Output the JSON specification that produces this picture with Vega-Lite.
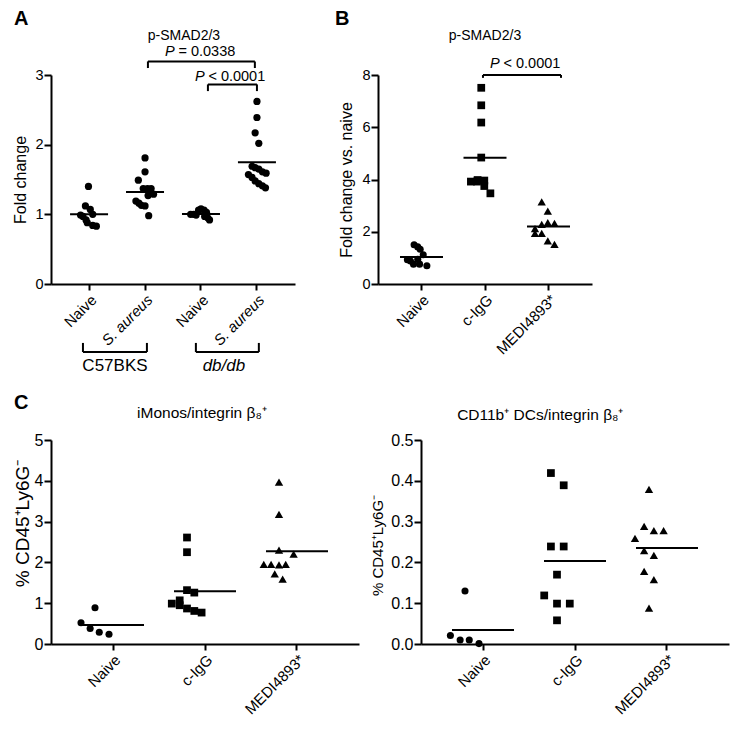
{
  "$schema": "https://vega.github.io/schema/vega-lite/v6.json",
  "background": "white",
  "padding": {"left": 12, "top": 8, "right": 5, "bottom": 5},
  "config": {
    "font": "Liberation Sans",
    "view": {"stroke": null},
    "axis": {"grid": false, "domainColor": "#000", "domainWidth": 2, "tickColor": "#000", "tickWidth": 2, "tickSize": 7, "labelColor": "#000", "labelFontSize": 14.5, "labelPadding": 1, "titleColor": "#000", "titleFontSize": 16, "titleFontWeight": "normal", "titlePadding": 6, "labelOverlap": false},
    "axisX": {"labelAngle": -45, "labelAlign": "right", "labelBaseline": "top", "labelFontSize": 15, "labelPadding": 2, "tickSize": 6},
    "text": {"color": "#000"},
    "rule": {"color": "#000", "strokeWidth": 2}
  },
  "datasets": {
    "A": [
      {"grp": "Naive|C57BKS", "col": -0.25, "v": 1.40}, {"grp": "Naive|C57BKS", "col": -1.5, "v": 1.12}, {"grp": "Naive|C57BKS", "col": 0.5, "v": 1.07}, {"grp": "Naive|C57BKS", "col": 1.5, "v": 1.00}, {"grp": "Naive|C57BKS", "col": -3.5, "v": 0.99}, {"grp": "Naive|C57BKS", "col": -2.5, "v": 0.97}, {"grp": "Naive|C57BKS", "col": -1.25, "v": 0.92}, {"grp": "Naive|C57BKS", "col": -0.75, "v": 0.88}, {"grp": "Naive|C57BKS", "col": 1.5, "v": 0.84}, {"grp": "Naive|C57BKS", "col": 3, "v": 0.83},
      {"grp": "S. aureus|C57BKS", "col": 0, "v": 1.81}, {"grp": "S. aureus|C57BKS", "col": 0, "v": 1.61}, {"grp": "S. aureus|C57BKS", "col": -2.75, "v": 1.49}, {"grp": "S. aureus|C57BKS", "col": -0.75, "v": 1.37}, {"grp": "S. aureus|C57BKS", "col": 1, "v": 1.37}, {"grp": "S. aureus|C57BKS", "col": 2.5, "v": 1.37}, {"grp": "S. aureus|C57BKS", "col": 3.5, "v": 1.29}, {"grp": "S. aureus|C57BKS", "col": 1.25, "v": 1.27}, {"grp": "S. aureus|C57BKS", "col": -3.75, "v": 1.19}, {"grp": "S. aureus|C57BKS", "col": -2.5, "v": 1.16}, {"grp": "S. aureus|C57BKS", "col": -1.5, "v": 1.13}, {"grp": "S. aureus|C57BKS", "col": 0, "v": 1.12}, {"grp": "S. aureus|C57BKS", "col": 1.5, "v": 0.98},
      {"grp": "Naive|db/db", "col": -4.25, "v": 1.00}, {"grp": "Naive|db/db", "col": -3, "v": 1.00}, {"grp": "Naive|db/db", "col": -2, "v": 0.99}, {"grp": "Naive|db/db", "col": -1, "v": 1.06}, {"grp": "Naive|db/db", "col": 0, "v": 1.08}, {"grp": "Naive|db/db", "col": 1.25, "v": 1.06}, {"grp": "Naive|db/db", "col": 2.25, "v": 1.03}, {"grp": "Naive|db/db", "col": 1.5, "v": 0.97}, {"grp": "Naive|db/db", "col": 2.75, "v": 0.95}, {"grp": "Naive|db/db", "col": 3.5, "v": 0.92},
      {"grp": "S. aureus|db/db", "col": 0, "v": 2.62}, {"grp": "S. aureus|db/db", "col": 0, "v": 2.39}, {"grp": "S. aureus|db/db", "col": -0.75, "v": 2.17}, {"grp": "S. aureus|db/db", "col": 0.75, "v": 2.02}, {"grp": "S. aureus|db/db", "col": -2, "v": 1.69}, {"grp": "S. aureus|db/db", "col": -0.75, "v": 1.67}, {"grp": "S. aureus|db/db", "col": 0.75, "v": 1.65}, {"grp": "S. aureus|db/db", "col": 2.25, "v": 1.61}, {"grp": "S. aureus|db/db", "col": 3.75, "v": 1.59}, {"grp": "S. aureus|db/db", "col": -3.5, "v": 1.57}, {"grp": "S. aureus|db/db", "col": -2, "v": 1.53}, {"grp": "S. aureus|db/db", "col": -0.75, "v": 1.48}, {"grp": "S. aureus|db/db", "col": 0.75, "v": 1.44}, {"grp": "S. aureus|db/db", "col": 2.25, "v": 1.41}, {"grp": "S. aureus|db/db", "col": 3.5, "v": 1.38}
    ],
    "B": [
      {"grp": "Naive", "col": -1.5, "v": 1.50}, {"grp": "Naive", "col": 0, "v": 1.42}, {"grp": "Naive", "col": 1, "v": 1.33}, {"grp": "Naive", "col": 2.25, "v": 1.12}, {"grp": "Naive", "col": -4.25, "v": 0.93}, {"grp": "Naive", "col": -3, "v": 0.88}, {"grp": "Naive", "col": -1.75, "v": 0.76}, {"grp": "Naive", "col": 0, "v": 0.95}, {"grp": "Naive", "col": 0.75, "v": 0.76}, {"grp": "Naive", "col": 3.75, "v": 0.70},
      {"grp": "c-IgG", "col": 0, "v": 7.51}, {"grp": "c-IgG", "col": 0, "v": 6.84}, {"grp": "c-IgG", "col": 0, "v": 6.18}, {"grp": "c-IgG", "col": 0, "v": 4.84}, {"grp": "c-IgG", "col": -4.25, "v": 3.92}, {"grp": "c-IgG", "col": -1.75, "v": 3.92}, {"grp": "c-IgG", "col": 1.25, "v": 3.96}, {"grp": "c-IgG", "col": 1.25, "v": 3.75}, {"grp": "c-IgG", "col": 3.75, "v": 3.47}, {"grp": "c-IgG", "col": -1.5, "v": 3.98},
      {"grp": "MEDI4893*", "col": -1.25, "v": 3.14}, {"grp": "MEDI4893*", "col": 1.25, "v": 2.79}, {"grp": "MEDI4893*", "col": 1.25, "v": 2.35}, {"grp": "MEDI4893*", "col": 4, "v": 2.32}, {"grp": "MEDI4893*", "col": -1.25, "v": 2.28}, {"grp": "MEDI4893*", "col": -4, "v": 2.12}, {"grp": "MEDI4893*", "col": -4, "v": 1.94}, {"grp": "MEDI4893*", "col": -1.25, "v": 1.94}, {"grp": "MEDI4893*", "col": 1.25, "v": 1.65}, {"grp": "MEDI4893*", "col": 4, "v": 1.52}
    ],
    "C1": [
      {"grp": "Naive", "col": -5.75, "v": 0.52}, {"grp": "Naive", "col": 0, "v": 0.89}, {"grp": "Naive", "col": -2, "v": 0.38}, {"grp": "Naive", "col": 1.75, "v": 0.29}, {"grp": "Naive", "col": 5.75, "v": 0.24},
      {"grp": "c-IgG", "col": 0, "v": 2.61}, {"grp": "c-IgG", "col": 0, "v": 2.25}, {"grp": "c-IgG", "col": 0, "v": 1.32}, {"grp": "c-IgG", "col": 3, "v": 1.26}, {"grp": "c-IgG", "col": -6.25, "v": 0.99}, {"grp": "c-IgG", "col": -3, "v": 1.07}, {"grp": "c-IgG", "col": -3, "v": 0.95}, {"grp": "c-IgG", "col": 0, "v": 0.87}, {"grp": "c-IgG", "col": 3, "v": 0.81}, {"grp": "c-IgG", "col": 6, "v": 0.77},
      {"grp": "MEDI4893*", "col": 0, "v": 3.97}, {"grp": "MEDI4893*", "col": 0, "v": 3.18}, {"grp": "MEDI4893*", "col": 0, "v": 2.30}, {"grp": "MEDI4893*", "col": 6, "v": 2.20}, {"grp": "MEDI4893*", "col": -6.25, "v": 1.95}, {"grp": "MEDI4893*", "col": -3.25, "v": 1.95}, {"grp": "MEDI4893*", "col": 0, "v": 1.94}, {"grp": "MEDI4893*", "col": 2.75, "v": 1.95}, {"grp": "MEDI4893*", "col": -1.75, "v": 1.72}, {"grp": "MEDI4893*", "col": 1.5, "v": 1.59}
    ],
    "C2": [
      {"grp": "Naive", "col": -6, "v": 0.021}, {"grp": "Naive", "col": 0, "v": 0.130}, {"grp": "Naive", "col": -2, "v": 0.010}, {"grp": "Naive", "col": 1.75, "v": 0.010}, {"grp": "Naive", "col": 5.75, "v": 0.001},
      {"grp": "c-IgG", "col": -2.5, "v": 0.419}, {"grp": "c-IgG", "col": 2.75, "v": 0.389}, {"grp": "c-IgG", "col": -2.5, "v": 0.239}, {"grp": "c-IgG", "col": 2.75, "v": 0.239}, {"grp": "c-IgG", "col": 0, "v": 0.170}, {"grp": "c-IgG", "col": -5.25, "v": 0.119}, {"grp": "c-IgG", "col": 0, "v": 0.099}, {"grp": "c-IgG", "col": 5.25, "v": 0.099}, {"grp": "c-IgG", "col": 0, "v": 0.058},
      {"grp": "MEDI4893*", "col": 0, "v": 0.379}, {"grp": "MEDI4893*", "col": -2, "v": 0.288}, {"grp": "MEDI4893*", "col": -5.75, "v": 0.259}, {"grp": "MEDI4893*", "col": 2, "v": 0.278}, {"grp": "MEDI4893*", "col": 6, "v": 0.278}, {"grp": "MEDI4893*", "col": -2, "v": 0.229}, {"grp": "MEDI4893*", "col": 2, "v": 0.217}, {"grp": "MEDI4893*", "col": -2, "v": 0.178}, {"grp": "MEDI4893*", "col": 2, "v": 0.158}, {"grp": "MEDI4893*", "col": 0, "v": 0.088}
    ]
  },
  "bounds": "flush",
  "spacing": 365,
  "vconcat": [
    {
      "bounds": "flush",
      "spacing": 83,
      "hconcat": [
        {
          "width": 244, "height": 209,
          "resolve": {"scale": {"x": "independent"}},
          "layer": [
            {
              "data": {"name": "A"},
              "layer": [
                {
                  "mark": {"type": "point", "shape": "circle", "filled": true, "color": "#000", "opacity": 1, "size": 52, "strokeWidth": 0},
                  "encoding": {
                    "x": {"field": "grp", "type": "nominal", "title": null,
                      "scale": {"domain": ["Naive|C57BKS", "S. aureus|C57BKS", "Naive|db/db", "S. aureus|db/db"], "paddingInner": 0, "paddingOuter": 0.18},
                      "axis": {"labelExpr": "split(datum.label, '|')[0]", "labelFontStyle": {"condition": {"test": "indexof(datum.value, 'aureus') >= 0", "value": "italic"}, "value": "normal"}}},
                    "xOffset": {"field": "col", "type": "quantitative", "scale": {"domain": [-7, 7], "range": [0, 56]}},
                    "y": {"field": "v", "type": "quantitative", "title": "Fold change", "scale": {"domain": [0, 3], "nice": false, "zero": false}, "axis": {"values": [0, 1, 2, 3], "format": "d", "titlePadding": 6}}
                  }
                },
                {
                  "mark": {"type": "tick", "color": "#000", "thickness": 2, "size": 38, "opacity": 1},
                  "encoding": {
                    "x": {"field": "grp", "type": "nominal"},
                    "y": {"aggregate": "mean", "field": "v", "type": "quantitative", "title": "Fold change"}
                  }
                }
              ]
            },
            {
              "data": {"values": [{}]},
              "layer": [
                {"mark": {"type": "text", "text": "A", "fontSize": 20, "fontWeight": "bold", "align": "left", "baseline": "middle"},
                 "encoding": {"x": {"datum": -1.34, "type": "quantitative", "scale": {"domain": [-0.68, 3.68], "nice": false, "zero": false}, "axis": null}, "y": {"datum": 3.80, "type": "quantitative"}}},
                {"mark": {"type": "text", "text": "p-SMAD2/3", "fontSize": 14, "align": "center", "baseline": "middle"},
                 "encoding": {"x": {"datum": 1.695, "type": "quantitative"}, "y": {"datum": 3.56, "type": "quantitative"}}},
                {"mark": {"type": "rule"}, "encoding": {"x": {"datum": 1.052, "type": "quantitative"}, "x2": {"datum": 2.963}, "y": {"datum": 3.195, "type": "quantitative"}}},
                {"mark": {"type": "rule"}, "encoding": {"x": {"datum": 1.052, "type": "quantitative"}, "y": {"datum": 3.195, "type": "quantitative"}, "y2": {"datum": 3.10}}},
                {"mark": {"type": "rule"}, "encoding": {"x": {"datum": 2.963, "type": "quantitative"}, "y": {"datum": 3.195, "type": "quantitative"}, "y2": {"datum": 3.10}}},
                {"mark": {"type": "text", "text": "P", "fontStyle": "italic", "fontSize": 14.5, "align": "left", "baseline": "alphabetic"},
                 "encoding": {"x": {"datum": 1.356, "type": "quantitative"}, "y": {"datum": 3.27, "type": "quantitative"}}},
                {"mark": {"type": "text", "text": "= 0.0338", "fontSize": 14.5, "align": "left", "baseline": "alphabetic", "dx": 13.5},
                 "encoding": {"x": {"datum": 1.356, "type": "quantitative"}, "y": {"datum": 3.27, "type": "quantitative"}}},
                {"mark": {"type": "rule"}, "encoding": {"x": {"datum": 2.124, "type": "quantitative"}, "x2": {"datum": 3.0}, "y": {"datum": 2.865, "type": "quantitative"}}},
                {"mark": {"type": "rule"}, "encoding": {"x": {"datum": 2.124, "type": "quantitative"}, "y": {"datum": 2.865, "type": "quantitative"}, "y2": {"datum": 2.769}}},
                {"mark": {"type": "rule"}, "encoding": {"x": {"datum": 3.0, "type": "quantitative"}, "y": {"datum": 2.865, "type": "quantitative"}, "y2": {"datum": 2.769}}},
                {"mark": {"type": "text", "text": "P", "fontStyle": "italic", "fontSize": 14.5, "align": "left", "baseline": "alphabetic"},
                 "encoding": {"x": {"datum": 1.891, "type": "quantitative"}, "y": {"datum": 2.912, "type": "quantitative"}}},
                {"mark": {"type": "text", "text": "< 0.0001", "fontSize": 14.5, "align": "left", "baseline": "alphabetic", "dx": 13.5},
                 "encoding": {"x": {"datum": 1.891, "type": "quantitative"}, "y": {"datum": 2.912, "type": "quantitative"}}},
                {"mark": {"type": "rule"}, "encoding": {"x": {"datum": -0.109, "type": "quantitative"}, "x2": {"datum": 1.034}, "y": {"datum": -0.976, "type": "quantitative"}}},
                {"mark": {"type": "rule"}, "encoding": {"x": {"datum": -0.109, "type": "quantitative"}, "y": {"datum": -0.976, "type": "quantitative"}, "y2": {"datum": -0.846}}},
                {"mark": {"type": "rule"}, "encoding": {"x": {"datum": 1.034, "type": "quantitative"}, "y": {"datum": -0.976, "type": "quantitative"}, "y2": {"datum": -0.846}}},
                {"mark": {"type": "rule"}, "encoding": {"x": {"datum": 1.909, "type": "quantitative"}, "x2": {"datum": 3.034}, "y": {"datum": -0.976, "type": "quantitative"}}},
                {"mark": {"type": "rule"}, "encoding": {"x": {"datum": 1.909, "type": "quantitative"}, "y": {"datum": -0.976, "type": "quantitative"}, "y2": {"datum": -0.846}}},
                {"mark": {"type": "rule"}, "encoding": {"x": {"datum": 3.034, "type": "quantitative"}, "y": {"datum": -0.976, "type": "quantitative"}, "y2": {"datum": -0.846}}},
                {"mark": {"type": "text", "text": "C57BKS", "fontSize": 17, "align": "center", "baseline": "middle"},
                 "encoding": {"x": {"datum": 0.463, "type": "quantitative"}, "y": {"datum": -1.18, "type": "quantitative"}}},
                {"mark": {"type": "text", "text": "db/db", "fontSize": 17, "fontStyle": "italic", "align": "center", "baseline": "middle"},
                 "encoding": {"x": {"datum": 2.41, "type": "quantitative"}, "y": {"datum": -1.18, "type": "quantitative"}}}
              ]
            }
          ]
        },
        {
          "width": 214, "height": 209,
          "resolve": {"scale": {"x": "independent"}},
          "layer": [
            {
              "data": {"name": "B"},
              "layer": [
                {
                  "mark": {"type": "point", "filled": true, "color": "#000", "opacity": 1, "strokeWidth": 0},
                  "encoding": {
                    "x": {"field": "grp", "type": "nominal", "title": null,
                      "scale": {"domain": ["Naive", "c-IgG", "MEDI4893*"], "paddingInner": 0, "paddingOuter": 0.185}},
                    "xOffset": {"field": "col", "type": "quantitative", "scale": {"domain": [-7.94, 7.94], "range": [0, 63.5]}},
                    "y": {"field": "v", "type": "quantitative", "title": "Fold change vs. naive", "scale": {"domain": [0, 8], "nice": false, "zero": false}, "axis": {"values": [0, 2, 4, 6, 8], "format": "d", "titlePadding": 7}},
                    "shape": {"field": "grp", "type": "nominal", "scale": {"domain": ["Naive", "c-IgG", "MEDI4893*"], "range": ["circle", "square", "triangle-up"]}, "legend": null},
                    "size": {"field": "grp", "type": "ordinal", "scale": {"domain": ["Naive", "c-IgG", "MEDI4893*"], "range": [50, 70, 85]}, "legend": null}
                  }
                },
                {
                  "mark": {"type": "tick", "color": "#000", "thickness": 2, "size": 43, "opacity": 1},
                  "encoding": {
                    "x": {"field": "grp", "type": "nominal"},
                    "y": {"aggregate": "mean", "field": "v", "type": "quantitative", "title": "Fold change vs. naive"}
                  }
                }
              ]
            },
            {
              "data": {"values": [{}]},
              "layer": [
                {"mark": {"type": "text", "text": "B", "fontSize": 20, "fontWeight": "bold", "align": "left", "baseline": "middle"},
                 "encoding": {"x": {"datum": -1.362, "type": "quantitative", "scale": {"domain": [-0.685, 2.685], "nice": false, "zero": false}, "axis": null}, "y": {"datum": 10.15, "type": "quantitative"}}},
                {"mark": {"type": "text", "text": "p-SMAD2/3", "fontSize": 14, "align": "center", "baseline": "middle"},
                 "encoding": {"x": {"datum": 1.0, "type": "quantitative"}, "y": {"datum": 9.5, "type": "quantitative"}}},
                {"mark": {"type": "text", "text": "P", "fontStyle": "italic", "fontSize": 14.5, "align": "left", "baseline": "alphabetic"},
                 "encoding": {"x": {"datum": 1.079, "type": "quantitative"}, "y": {"datum": 8.27, "type": "quantitative"}}},
                {"mark": {"type": "text", "text": "< 0.0001", "fontSize": 14.5, "align": "left", "baseline": "alphabetic", "dx": 13.5},
                 "encoding": {"x": {"datum": 1.079, "type": "quantitative"}, "y": {"datum": 8.27, "type": "quantitative"}}},
                {"mark": {"type": "rule"}, "encoding": {"x": {"datum": 0.968, "type": "quantitative"}, "x2": {"datum": 2.197}, "y": {"datum": 8.0, "type": "quantitative"}}},
                {"mark": {"type": "rule"}, "encoding": {"x": {"datum": 0.968, "type": "quantitative"}, "y": {"datum": 8.0, "type": "quantitative"}, "y2": {"datum": 7.89}}},
                {"mark": {"type": "rule"}, "encoding": {"x": {"datum": 2.197, "type": "quantitative"}, "y": {"datum": 8.0, "type": "quantitative"}, "y2": {"datum": 7.89}}}
              ]
            }
          ]
        }
      ]
    },
    {
      "bounds": "flush",
      "spacing": 62,
      "hconcat": [
        {
          "width": 308, "height": 204,
          "resolve": {"scale": {"x": "independent"}},
          "layer": [
            {
              "data": {"name": "C1"},
              "layer": [
                {
                  "mark": {"type": "point", "filled": true, "color": "#000", "opacity": 1, "strokeWidth": 0},
                  "encoding": {
                    "x": {"field": "grp", "type": "nominal", "title": null,
                      "scale": {"domain": ["Naive", "c-IgG", "MEDI4893*"], "paddingInner": 0, "paddingOuter": 0.174}},
                    "xOffset": {"field": "col", "type": "quantitative", "scale": {"domain": [-11.5, 11.5], "range": [0, 92]}},
                    "y": {"field": "v", "type": "quantitative", "title": "% CD45⁺Ly6G⁻", "scale": {"domain": [0, 5], "nice": false, "zero": false}, "axis": {"values": [0, 1, 2, 3, 4, 5], "format": "d", "labelFontSize": 16, "titleFontSize": 19, "titlePadding": 2, "titleY": 83}},
                    "shape": {"field": "grp", "type": "nominal", "scale": {"domain": ["Naive", "c-IgG", "MEDI4893*"], "range": ["circle", "square", "triangle-up"]}, "legend": null},
                    "size": {"field": "grp", "type": "ordinal", "scale": {"domain": ["Naive", "c-IgG", "MEDI4893*"], "range": [66, 78, 100]}, "legend": null}
                  }
                },
                {
                  "mark": {"type": "tick", "color": "#000", "thickness": 2, "size": 62, "opacity": 1},
                  "encoding": {
                    "x": {"field": "grp", "type": "nominal"},
                    "y": {"aggregate": "mean", "field": "v", "type": "quantitative", "title": "% CD45⁺Ly6G⁻"}
                  }
                }
              ]
            },
            {
              "data": {"values": [{}]},
              "layer": [
                {"mark": {"type": "text", "text": "C", "fontSize": 20, "fontWeight": "bold", "align": "left", "baseline": "middle"},
                 "encoding": {"x": {"datum": -1.076, "type": "quantitative", "scale": {"domain": [-0.674, 2.674], "nice": false, "zero": false}, "axis": null}, "y": {"datum": 5.91, "type": "quantitative"}}},
                {"mark": {"type": "text", "text": "iMonos/integrin β₈⁺", "fontSize": 15.5, "align": "center", "baseline": "middle"},
                 "encoding": {"x": {"datum": 0.967, "type": "quantitative"}, "y": {"datum": 5.66, "type": "quantitative"}}}
              ]
            }
          ]
        },
        {
          "width": 308, "height": 204,
          "resolve": {"scale": {"x": "independent"}},
          "layer": [
            {
              "data": {"name": "C2"},
              "layer": [
                {
                  "mark": {"type": "point", "filled": true, "color": "#000", "opacity": 1, "strokeWidth": 0},
                  "encoding": {
                    "x": {"field": "grp", "type": "nominal", "title": null,
                      "scale": {"domain": ["Naive", "c-IgG", "MEDI4893*"], "paddingInner": 0, "paddingOuter": 0.174}},
                    "xOffset": {"field": "col", "type": "quantitative", "scale": {"domain": [-11.5, 11.5], "range": [0, 92]}},
                    "y": {"field": "v", "type": "quantitative", "title": "% CD45⁺Ly6G⁻", "scale": {"domain": [0, 0.5], "nice": false, "zero": false}, "axis": {"values": [0, 0.1, 0.2, 0.3, 0.4, 0.5], "format": ".1f", "labelFontSize": 16, "titleFontSize": 15, "titlePadding": 5, "titleY": 105}},
                    "shape": {"field": "grp", "type": "nominal", "scale": {"domain": ["Naive", "c-IgG", "MEDI4893*"], "range": ["circle", "square", "triangle-up"]}, "legend": null},
                    "size": {"field": "grp", "type": "ordinal", "scale": {"domain": ["Naive", "c-IgG", "MEDI4893*"], "range": [66, 85, 100]}, "legend": null}
                  }
                },
                {
                  "mark": {"type": "tick", "color": "#000", "thickness": 2, "size": 62, "opacity": 1},
                  "encoding": {
                    "x": {"field": "grp", "type": "nominal"},
                    "y": {"aggregate": "mean", "field": "v", "type": "quantitative", "title": "% CD45⁺Ly6G⁻"}
                  }
                }
              ]
            },
            {
              "data": {"values": [{}]},
              "layer": [
                {"mark": {"type": "text", "text": "CD11b⁺ DCs/integrin β₈⁺", "fontSize": 15.5, "align": "center", "baseline": "middle"},
                 "encoding": {"x": {"datum": 0.623, "type": "quantitative", "scale": {"domain": [-0.674, 2.674], "nice": false, "zero": false}, "axis": null}, "y": {"datum": 0.562, "type": "quantitative"}}}
              ]
            }
          ]
        }
      ]
    }
  ]
}
